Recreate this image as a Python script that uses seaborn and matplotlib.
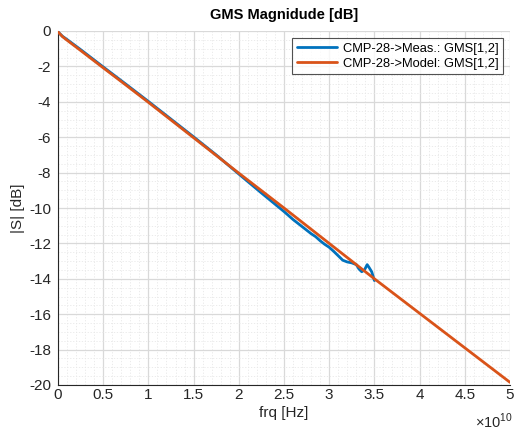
import matplotlib
matplotlib.use("Agg")
import matplotlib.pyplot as plt
import seaborn as sns
import pandas as pd
from matplotlib.ticker import FixedLocator, MultipleLocator

# ---- data (frequency in units of 1e10 Hz, magnitude in dB) ----
meas_freq = [0.0, 0.05, 0.1, 0.25, 0.5, 0.75, 1.0, 1.25, 1.5, 1.75, 2.0, 2.25, 2.5,
             2.6, 2.7, 2.8, 2.85, 2.9, 2.95, 3.0, 3.05, 3.1, 3.15, 3.2, 3.25, 3.3,
             3.33, 3.36, 3.39, 3.42, 3.44, 3.47, 3.5]
meas_db = [-0.05, -0.3, -0.48, -1.05, -2.03, -3.0, -3.98, -4.98, -5.98, -7.0, -8.08,
           -9.15, -10.2, -10.65, -11.05, -11.45, -11.62, -11.85, -12.05, -12.22,
           -12.45, -12.7, -12.95, -13.05, -13.1, -13.2, -13.45, -13.6, -13.5,
           -13.2, -13.35, -13.6, -14.1]

model_freq = [0.0, 0.05, 0.1, 0.25, 0.5, 0.75, 1.0, 1.5, 2.0, 2.5, 3.0, 3.5, 4.0,
              4.5, 5.0]
model_db = [-0.05, -0.32, -0.52, -1.1, -2.08, -3.05, -4.03, -6.03, -8.03, -10.0, -12.0,
            -14.0, -15.95, -17.9, -19.85]

series_labels = ["CMP-28->Meas.: GMS[1,2]", "CMP-28->Model: GMS[1,2]"]
x_ticks = [0, 0.5, 1, 1.5, 2, 2.5, 3, 3.5, 4, 4.5, 5]
x_tick_labels = ["0", "0.5", "1", "1.5", "2", "2.5", "3", "3.5", "4", "4.5", "5"]
y_ticks = [-20, -18, -16, -14, -12, -10, -8, -6, -4, -2, 0]
y_tick_labels = ["-20", "-18", "-16", "-14", "-12", "-10", "-8", "-6", "-4", "-2", "0"]

sns.set_style("white")
plt.rcParams["font.family"] = ["Liberation Sans", "DejaVu Sans"]
plt.rcParams["mathtext.fontset"] = "custom"
plt.rcParams["mathtext.rm"] = "Liberation Sans"

W, H = 514, 434
fig = plt.figure(figsize=(W / 100, H / 100), dpi=100)
L, R, T, B = 58, 510, 31, 385
ax = fig.add_axes([L / W, 1 - B / H, (R - L) / W, (B - T) / H])

meas = pd.DataFrame({"f": meas_freq, "db": meas_db})
model = pd.DataFrame({"f": model_freq, "db": model_db})

sns.lineplot(data=meas, x="f", y="db", ax=ax, color="#0072BD", lw=2.0,
             estimator=None, sort=False, label=series_labels[0], zorder=3)
sns.lineplot(data=model, x="f", y="db", ax=ax, color="#D95319", lw=2.0,
             estimator=None, sort=False, label=series_labels[1], zorder=4)

ax.set_xlim(0, 5)
ax.set_ylim(-20, 0)
ax.xaxis.set_major_locator(FixedLocator(x_ticks))
ax.set_xticklabels(x_tick_labels)
ax.yaxis.set_major_locator(FixedLocator(y_ticks))
ax.set_yticklabels(y_tick_labels)
ax.xaxis.set_minor_locator(MultipleLocator(0.1))
ax.yaxis.set_minor_locator(MultipleLocator(0.5))

ax.grid(which="major", color="#d9d9d9", lw=0.9)
ax.grid(which="minor", color="#e8e8e8", lw=0.6, linestyle=(0, (1.5, 2)))
ax.set_axisbelow(True)

for s in ["top", "right"]:
    ax.spines[s].set_visible(False)
for s in ["left", "bottom"]:
    ax.spines[s].set_color("#262626")
    ax.spines[s].set_linewidth(0.8)

ax.tick_params(which="major", direction="in", length=4, width=0.8,
               colors="#262626", labelsize=11, top=False, right=False)
ax.tick_params(which="minor", length=0)
ax.tick_params(axis="x", pad=2)
ax.tick_params(axis="y", pad=5)

ax.set_xlabel("frq [Hz]", fontsize=11, color="#262626", labelpad=3)
ax.set_ylabel("|S| [dB]", fontsize=11, color="#262626", labelpad=3)
ax.set_title("GMS Magnidude [dB]", fontsize=10.5, fontweight="bold",
             color="#000000", pad=9)

fig.text(513 / W, 1 - 421 / H, r"$\times10^{10}$", ha="right", va="center",
         fontsize=10.5, color="#262626")

leg = ax.legend(loc="upper right", fontsize=9.3, frameon=True, fancybox=False,
                edgecolor="#262626", handlelength=3.1, borderaxespad=0.55,
                borderpad=0.35, labelspacing=0.25, handletextpad=0.45)
leg.get_frame().set_linewidth(0.8)
for t in leg.get_texts():
    t.set_color("#000000")

fig.savefig("out.png", dpi=100)
